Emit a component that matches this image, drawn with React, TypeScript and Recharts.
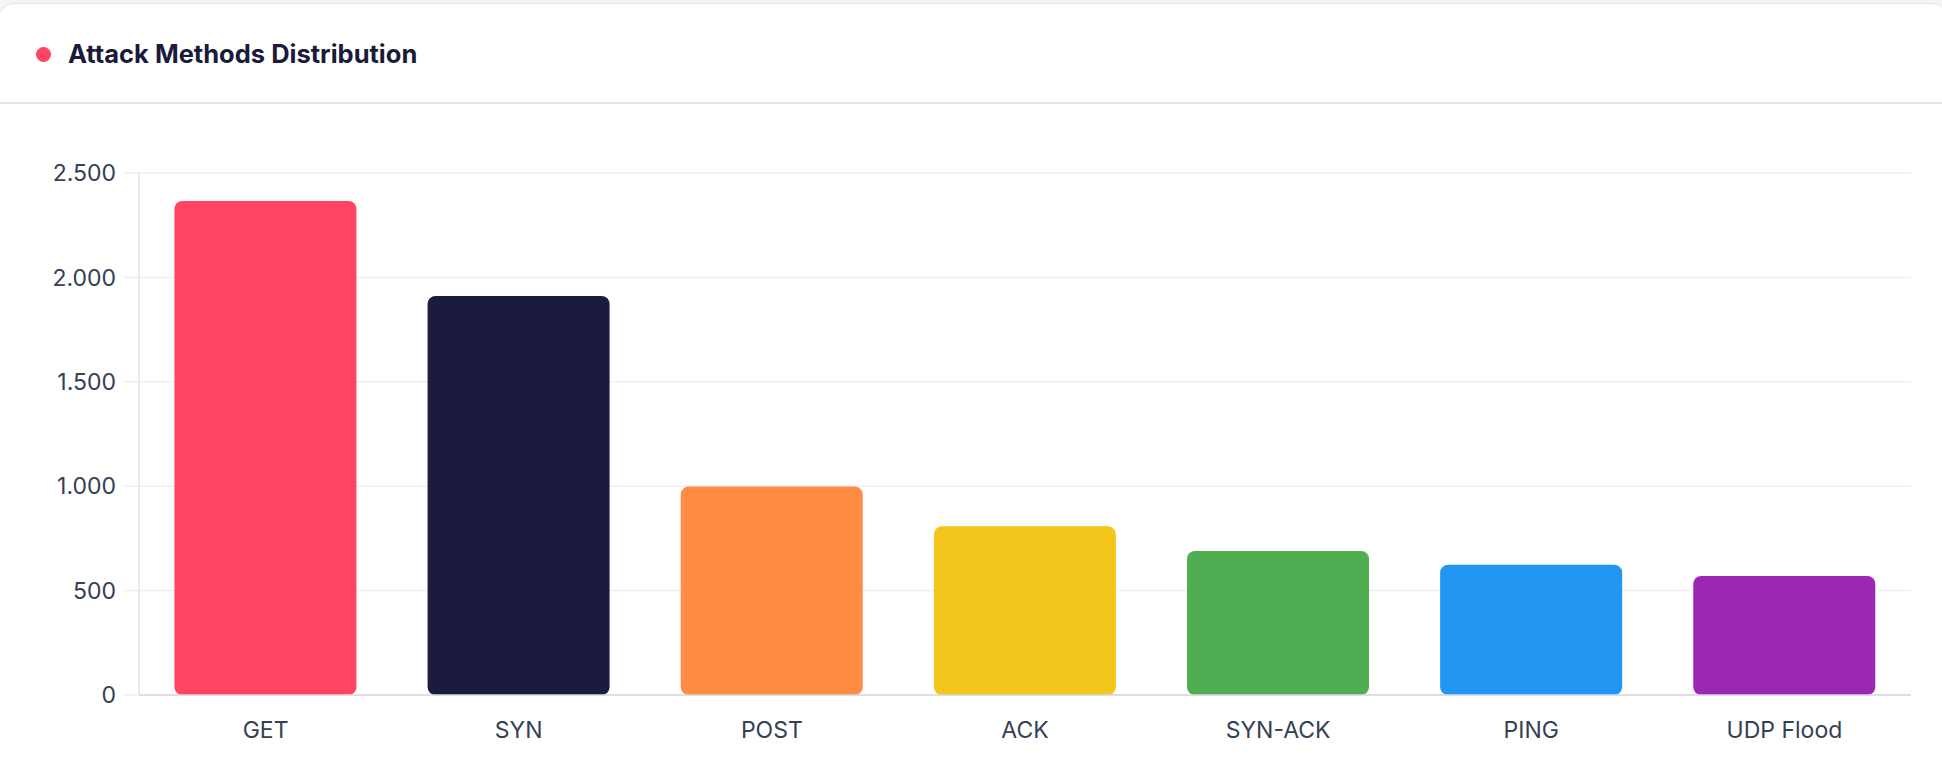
import React from 'react';
import { BarChart, Bar, XAxis, YAxis, CartesianGrid, Cell } from 'recharts';

const categories = ['GET', 'SYN', 'POST', 'ACK', 'SYN-ACK', 'PING', 'UDP Flood'];
const attackCounts = [2366, 1911, 998, 808, 690, 624, 570];
const barColors = ['#FF4563', '#1B1B3D', '#FF8C42', '#F4C51A', '#4FAE52', '#2196F3', '#9C27B0'];
const yTicks = [0, 500, 1000, 1500, 2000, 2500];

const data = categories.map((name, i) => ({ name, value: attackCounts[i] }));
const fmt = (v: number) => String(v).replace(/\B(?=(\d{3})+(?!\d))/g, '.');

const FONT = 'Inter, "Noto Sans", sans-serif';

export default function App() {
  return (
    <div
      style={{
        position: 'absolute',
        left: 0,
        top: 0,
        width: 1942,
        height: 778,
        background: '#F3F4F8',
        overflow: 'hidden',
        fontFamily: FONT,
      }}
    >
      <div
        style={{
          position: 'absolute',
          left: -2,
          top: 3,
          width: 1950,
          height: 820,
          background: '#FFFFFF',
          border: '1.5px solid #E2E5EF',
          borderRadius: 16,
          boxSizing: 'border-box',
        }}
      />
      <div
        style={{
          position: 'absolute',
          left: 0,
          top: 102,
          width: 1942,
          height: 1.5,
          background: '#E2E5EF',
        }}
      />
      <div
        style={{
          position: 'absolute',
          left: 35.5,
          top: 46.5,
          width: 15,
          height: 15,
          borderRadius: '50%',
          background: '#FF4563',
        }}
      />
      <div
        style={{
          position: 'absolute',
          left: 68,
          top: 54,
          transform: 'translateY(-50%)',
          fontSize: 25.5,
          fontWeight: 700,
          color: '#1A1A3A',
          lineHeight: 1,
          whiteSpace: 'nowrap',
        }}
      >
        Attack Methods Distribution
      </div>
      <div style={{ position: 'absolute', left: 0, top: 103 }}>
        <BarChart
          width={1942}
          height={675}
          data={data}
          margin={{ top: 70, right: 31, bottom: 23, left: 0 }}
          barCategoryGap="14%"
        >
          <CartesianGrid vertical={false} stroke="#EFEFF4" strokeWidth={1.5} />
          <XAxis
            dataKey="name"
            height={60}
            tickLine={false}
            axisLine={{ stroke: '#D7D7DE', strokeWidth: 1.5 }}
            tickMargin={21}
            tick={{ fill: '#344054', fontSize: 23, fontFamily: FONT }}
            interval={0}
          />
          <YAxis
            width={139}
            domain={[0, 2500]}
            ticks={yTicks}
            tickFormatter={fmt}
            tickSize={16}
            tickMargin={7}
            tickLine={{ stroke: '#EFEFF4', strokeWidth: 1.5 }}
            axisLine={{ stroke: '#E3E3E9', strokeWidth: 1.5 }}
            tick={{ fill: '#344054', fontSize: 23, fontFamily: FONT }}
          />
          <Bar dataKey="value" radius={8} isAnimationActive={false}>
            {data.map((d, i) => (
              <Cell key={d.name} fill={barColors[i]} />
            ))}
          </Bar>
        </BarChart>
      </div>
    </div>
  );
}
